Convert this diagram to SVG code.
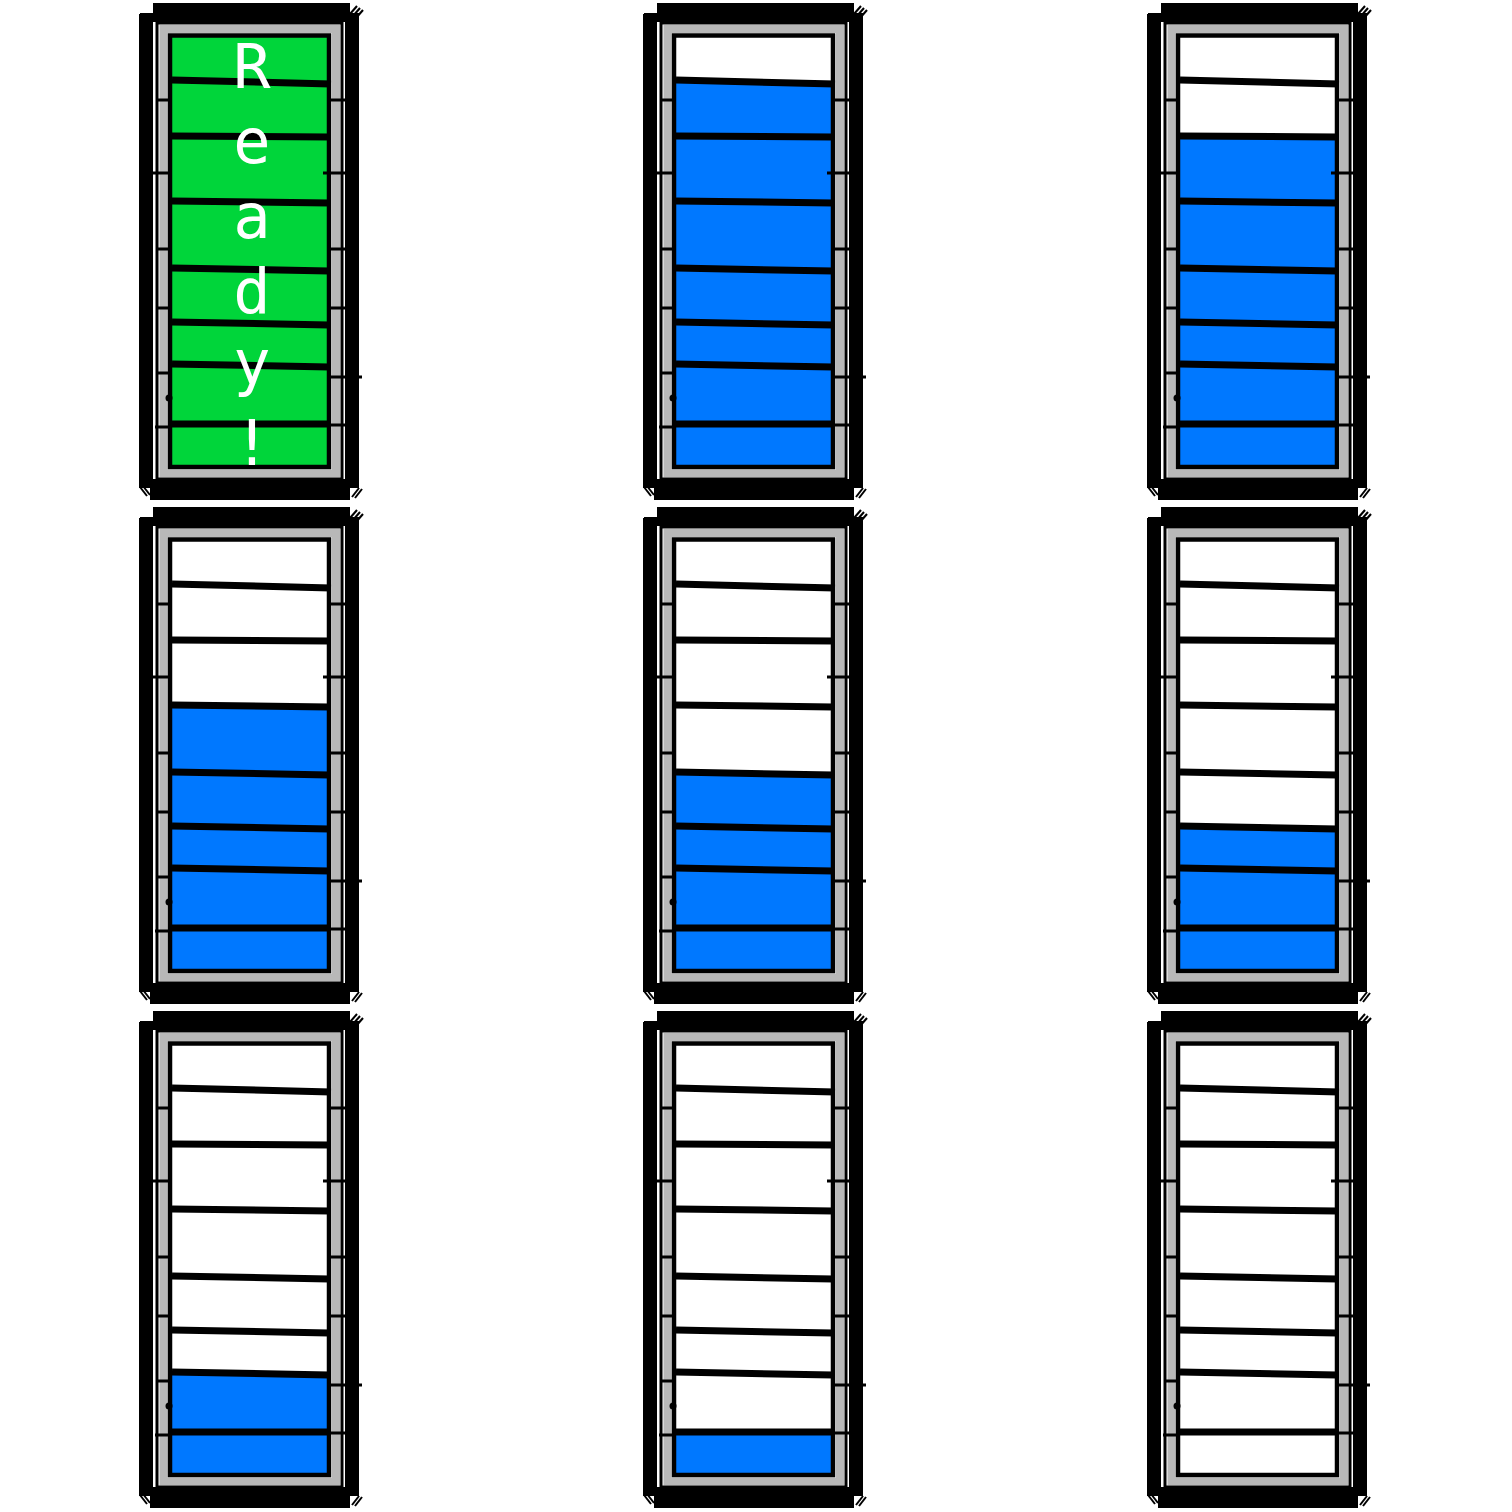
<svg xmlns="http://www.w3.org/2000/svg" xmlns:xlink="http://www.w3.org/1999/xlink" width="1512" height="1512" viewBox="0 0 1512 1512">
<style>
.blue{fill:#0078ff}
.green{fill:#00d53a}
.sep{stroke:#000;stroke-width:7;fill:none}
.heavy{fill:#000}
.thin{stroke:#000;stroke-width:3;fill:none}
.band{stroke:#b8b8b8;stroke-width:8;fill:none}
.inner{stroke:#000;stroke-width:4.5;fill:none}
.tick{stroke:#000;stroke-width:3}
.hatch{stroke:#000;stroke-width:2}
.label{font-family:"DejaVu Sans Mono","Liberation Mono",monospace;font-size:62px;fill:#fff;text-anchor:middle}
</style>
<defs>
<g id="frame">
  <rect class="heavy" x="153" y="3" width="197" height="12"/>
  <rect class="heavy" x="140" y="13" width="219" height="9"/>
  <rect class="heavy" x="139" y="14" width="14" height="474"/>
  <rect class="heavy" x="345" y="14" width="14" height="474"/>
  <rect class="heavy" x="141" y="479" width="217" height="9"/>
  <rect class="heavy" x="150" y="486" width="200" height="14"/>
  <rect class="band" x="163.5" y="29" width="172.5" height="444.5"/>
  <rect class="thin" x="157" y="23" width="185" height="456"/>
  <rect class="inner" x="170" y="35.5" width="159" height="431.5"/>
  <line class="sep" x1="172" y1="80" x2="331" y2="84"/>
  <line class="sep" x1="172" y1="136" x2="329" y2="137"/>
  <line class="sep" x1="172" y1="201" x2="329" y2="203"/>
  <line class="sep" x1="172" y1="268" x2="329" y2="271"/>
  <line class="sep" x1="172" y1="322" x2="329" y2="325"/>
  <line class="sep" x1="172" y1="364" x2="329" y2="367"/>
  <line class="sep" x1="172" y1="424" x2="331" y2="424"/>
  <line class="tick" x1="158" y1="100" x2="172" y2="100"/>
  <line class="tick" x1="152" y1="173" x2="172" y2="173"/>
  <line class="tick" x1="158" y1="249" x2="172" y2="249"/>
  <line class="tick" x1="158" y1="308" x2="172" y2="308"/>
  <line class="tick" x1="158" y1="373" x2="172" y2="373"/>
  <line class="tick" x1="155" y1="427" x2="172" y2="427"/>
  <circle cx="169" cy="398" r="3.5" fill="#000"/>
  <line class="tick" x1="328" y1="100" x2="346" y2="100"/>
  <line class="tick" x1="323" y1="173" x2="346" y2="173"/>
  <line class="tick" x1="328" y1="249" x2="346" y2="249"/>
  <line class="tick" x1="328" y1="308" x2="346" y2="308"/>
  <line class="tick" x1="328" y1="377" x2="362" y2="377"/>
  <line class="tick" x1="328" y1="425" x2="346" y2="425"/>
  <line class="hatch" x1="350" y1="14" x2="357" y2="6"/>
  <line class="hatch" x1="353" y1="16" x2="360" y2="8"/>
  <line class="hatch" x1="356" y1="18" x2="363" y2="10"/>
  <line class="hatch" x1="140" y1="487" x2="147" y2="496"/>
  <line class="hatch" x1="143" y1="486" x2="150" y2="495"/>
  <line class="hatch" x1="352" y1="497" x2="359" y2="488"/>
  <line class="hatch" x1="355" y1="498" x2="362" y2="489"/>
</g>
</defs>
<rect width="1512" height="1512" fill="#fff"/>
<g id="cell-r0c0" transform="translate(0,0)">
  <rect class="green" x="172" y="37" width="156" height="429"/>
  <use xlink:href="#frame" href="#frame"/>
  <text class="label" x="252" y="88">R</text>
  <text class="label" x="252" y="163">e</text>
  <text class="label" x="252" y="238">a</text>
  <text class="label" x="252" y="313">d</text>
  <text class="label" x="252" y="384">y</text>
  <text class="label" x="252" y="465">!</text>
</g>
<g id="cell-r0c1" transform="translate(504,0)">
  <rect class="blue" x="172" y="82" width="156" height="384"/>
  <use xlink:href="#frame" href="#frame"/>
</g>
<g id="cell-r0c2" transform="translate(1008,0)">
  <rect class="blue" x="172" y="137" width="156" height="329"/>
  <use xlink:href="#frame" href="#frame"/>
</g>
<g id="cell-r1c0" transform="translate(0,504)">
  <rect class="blue" x="172" y="202" width="156" height="264"/>
  <use xlink:href="#frame" href="#frame"/>
</g>
<g id="cell-r1c1" transform="translate(504,504)">
  <rect class="blue" x="172" y="270" width="156" height="196"/>
  <use xlink:href="#frame" href="#frame"/>
</g>
<g id="cell-r1c2" transform="translate(1008,504)">
  <rect class="blue" x="172" y="323" width="156" height="143"/>
  <use xlink:href="#frame" href="#frame"/>
</g>
<g id="cell-r2c0" transform="translate(0,1008)">
  <rect class="blue" x="172" y="365" width="156" height="101"/>
  <use xlink:href="#frame" href="#frame"/>
</g>
<g id="cell-r2c1" transform="translate(504,1008)">
  <rect class="blue" x="172" y="424" width="156" height="42"/>
  <use xlink:href="#frame" href="#frame"/>
</g>
<g id="cell-r2c2" transform="translate(1008,1008)">
  <use xlink:href="#frame" href="#frame"/>
</g>
<g id="connectors"/>
</svg>
